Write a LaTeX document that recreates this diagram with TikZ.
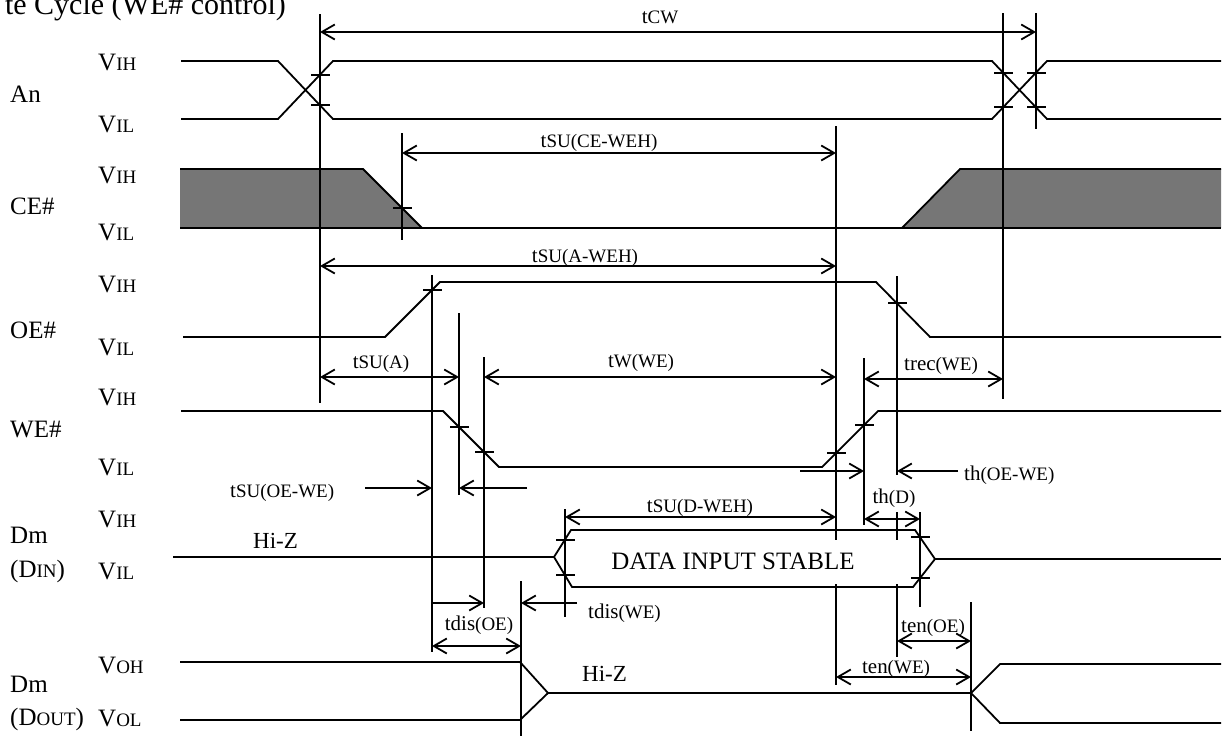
\documentclass[tikz,border=0pt]{standalone}
\usepackage{fontspec}
\setmainfont{Liberation Serif}
\usepackage{tikz}
\usetikzlibrary{arrows.meta}

\definecolor{cefill}{RGB}{118,118,118}
\newcommand{\mainsize}{\fontsize{25}{28}\selectfont}
\newcommand{\hizsize}{\fontsize{23}{26}\selectfont}
\newcommand{\tsize}{\fontsize{21}{24}\selectfont}
\newcommand{\subsize}{\fontsize{19}{21}\selectfont}

\begin{document}
\begin{tikzpicture}[
		x=1pt, y=-1pt,
		sig/.style={line width=1.8pt},
		guide/.style={line width=1.8pt},
		dimarrow/.style={line width=1.8pt, >={Straight Barb[length=13pt,width=15pt]}},
		lbl/.style={inner sep=0pt, anchor=base west, font=\mainsize},
		tlbl/.style={inner sep=0pt, anchor=base, font=\subsize}
	]
		\useasboundingbox (0,0) rectangle (1230,737);

		% Title (cut at the top)
		\node[inner sep=0pt, anchor=base east, font=\fontsize{30}{32}\selectfont] (title) at (286,14) {te Cycle (WE\# control)};

		% Signal names
		\node[lbl] (an) at (10,102) {An};
		\node[lbl] (ce) at (10,214) {CE\#};
		\node[lbl] (oe) at (10,338) {OE\#};
		\node[lbl] (we) at (10,437) {WE\#};
		\node[lbl] (dinA) at (10,543) {Dm};
		\node[lbl] (dinB) at (10,577) {(D{\subsize IN})};
		\node[lbl] (doutA) at (10,692) {Dm};
		\node[lbl] (doutB) at (10,725) {(D{\subsize OUT})};

		% Levels
		\foreach \vy/\vs/\vn in {70/IH/anH, 132/IL/anL, 183/IH/ceH, 240/IL/ceL, 292/IH/oeH, 355/IL/oeL,
				405/IH/weH, 475/IL/weL, 527/IH/dinH, 579/IL/dinL, 673/OH/doutH, 726/OL/doutL}
			\node[lbl] (\vn) at (98,\vy) {V{\subsize \vs}};

		% An
		\draw[sig] (181,61) -- (278,61) -- (333,119) -- (992,119) -- (1047,61) -- (1221,61);
		\draw[sig] (181,119) -- (278,119) -- (333,61) -- (992,61) -- (1047,119) -- (1221,119);

		% CE#
		\fill[cefill] (180,169) -- (363,169) -- (422,228) -- (180,228) -- cycle;
		\fill[cefill] (902,228) -- (960,169) -- (1221,169) -- (1221,228) -- cycle;
		\draw[sig] (180,169) -- (363,169) -- (422,228);
		\draw[sig] (902,228) -- (960,169) -- (1221,169);
		\draw[sig] (180,228) -- (1221,228);

		% OE#
		\draw[sig] (183,337) -- (385,337) -- (440,282) -- (876,282) -- (930,337) -- (1221,337);

		% WE#
		\draw[sig] (181,411) -- (443,411) -- (499,467) -- (822,467) -- (878,411) -- (1221,411);

		% Dm (DIN)
		\draw[sig] (173,557) -- (554,557);
		\draw[sig] (554,557) -- (571,530) -- (915,530) -- (935,559) -- (913,587) -- (572,587) -- cycle;
		\draw[sig] (935,559) -- (1221,559);
		\node[inner sep=0pt, anchor=base, font=\mainsize] (data) at (733,569) {DATA INPUT STABLE};
		\node[inner sep=0pt, anchor=base west, font=\hizsize] (hizin) at (253,548) {Hi-Z};

		% Dm (DOUT)
		\draw[sig] (180,662) -- (520,662) -- (548,693) -- (971,693) -- (1000,664) -- (1221,664);
		\draw[sig] (180,720) -- (520,720) -- (548,693);
		\draw[sig] (971,693) -- (1000,723) -- (1221,723);
		\node[inner sep=0pt, anchor=base west, font=\hizsize] (hizout) at (582,681) {Hi-Z};

		% Reference lines
		\foreach \gx/\ga/\gb in {320/14/403, 402/133/240, 432/275/652, 459/313/495, 484/357/608,
				521/581/736, 565/509/617, 836/126/540, 836/584/685, 864/358/525, 897/276/475,
				897/512/540, 897/584/657, 920/512/607, 971/602/731, 1003/13/399, 1036/13/129}
			\draw[guide] (\gx,\ga) -- (\gx,\gb);

		% Crossing marks
		\foreach \tx/\ty in {320/75, 320/105, 1003/73, 1003/107, 1036/73, 1036/107, 402/208,
				432/290, 897/303, 459/427, 484/452, 836/453, 864/425,
				565/540, 565/575, 920/537, 920/578}
			\draw[sig] (\tx-9,\ty) -- (\tx+10,\ty);

		% Timing arrows
		\draw[dimarrow, <->] (320,32) -- (1036,32);
		\draw[dimarrow, <->] (402,153) -- (836,153);
		\draw[dimarrow, <->] (320,266) -- (836,266);
		\draw[dimarrow, <->] (320,377) -- (459,377);
		\draw[dimarrow, <->] (484,377) -- (836,377);
		\draw[dimarrow, <->] (864,379) -- (1003,379);
		\draw[dimarrow, ->] (800,471) -- (864,471);
		\draw[dimarrow, ->] (958,471) -- (897,471);
		\draw[dimarrow, ->] (365,488) -- (432,488);
		\draw[dimarrow, ->] (527,488) -- (459,488);
		\draw[dimarrow, <->] (565,517) -- (836,517);
		\draw[dimarrow, <->] (864,519) -- (920,519);
		\draw[dimarrow, ->] (433,603) -- (484,603);
		\draw[dimarrow, ->] (577,603) -- (521,603);
		\draw[dimarrow, <->] (432,646) -- (521,646);
		\draw[dimarrow, <->] (897,641) -- (971,641);
		\draw[dimarrow, <->] (836,677) -- (971,677);

		% Timing labels
		\node[tlbl] (tcw) at (660,23) {{\tsize t}CW};
		\node[tlbl] (tsuce) at (599,147) {{\tsize t}SU(CE-WEH)};
		\node[tlbl] (tsuaw) at (585,262) {{\tsize t}SU(A-WEH)};
		\node[tlbl] (tsua) at (381,368) {{\tsize t}SU(A)};
		\node[tlbl] (twwe) at (641,367) {{\tsize t}W(WE)};
		\node[tlbl] (trec) at (941,370) {{\tsize trec}(WE)};
		\node[tlbl, anchor=base west] (thoe) at (964,480) {{\tsize th}(OE-WE)};
		\node[tlbl, anchor=base west] (tsuoe) at (230,497) {{\tsize t}SU(OE-WE)};
		\node[tlbl] (tsud) at (700,512) {{\tsize t}SU(D-WEH)};
		\node[tlbl] (thd) at (894,503) {{\tsize th}(D)};
		\node[tlbl, anchor=base west] (tdiswe) at (588,618) {{\tsize tdis}(WE)};
		\node[tlbl] (tdisoe) at (479,630) {{\tsize tdis}(OE)};
		\node[tlbl] (tenoe) at (933,632) {{\tsize ten}(OE)};
		\node[tlbl] (tenwe) at (896,673) {{\tsize ten}(WE)};
	\end{tikzpicture}
\end{document}
